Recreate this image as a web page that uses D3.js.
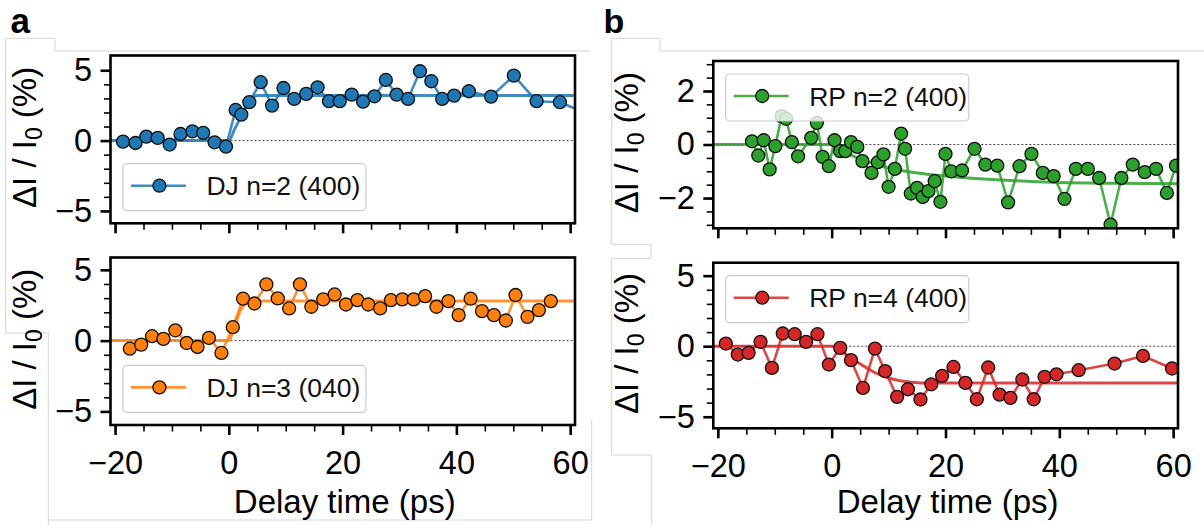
<!DOCTYPE html>
<html><head><meta charset="utf-8">
<script src="https://cdn.jsdelivr.net/npm/d3@7"></script>
<style>html,body{margin:0;padding:0;background:#fff;} svg{display:block;}</style>
</head><body>
<svg id="chart" width="1204" height="525"></svg>
<script>
// ---------------- data ----------------
const xTickMajor = [-20, 0, 20, 40, 60];
const xTickMinor = [-20,-15,-10,-5,0,5,10,15,20,25,30,35,40,45,50,55,60];
const xLabel = "Delay time (ps)";

// DJ n=2 (400)
const timeDJ2 = [-18.6,-16.4,-14.5,-12.5,-10.4,-8.5,-6.4,-4.5,-2.5,-0.5,1.2,2.2,3.6,5.6,7.6,9.6,11.5,13.6,15.6,17.6,19.5,21.6,23.6,25.6,27.6,29.5,31.5,33.6,35.6,37.5,39.6,42.2,46.1,50.1,54.1,58.2,62.2];
const valDJ2  = [-0.07,-0.17,0.28,0.19,-0.28,0.47,0.66,0.55,-0.12,-0.43,2.18,1.85,2.73,4.15,2.49,3.74,2.96,3.32,3.79,2.80,2.80,3.27,2.77,3.15,4.31,3.27,2.96,4.93,4.22,2.96,3.20,3.51,3.13,4.62,2.80,2.73,2.05];
const fitTimeDJ2 = [-22, 0, 1, 2, 3, 4, 5, 63];
const fitValDJ2  = [0, 0, 0.8, 1.6, 2.4, 2.95, 3.2, 3.2];

// DJ n=3 (040)
const timeDJ3 = [-17.4,-15.4,-13.5,-11.5,-9.4,-7.4,-5.5,-3.5,-1.3,0.7,2.5,4.5,6.6,8.6,10.6,12.5,14.5,16.6,18.6,20.6,22.6,24.5,26.6,28.5,30.5,32.5,34.5,36.5,38.6,40.4,42.5,44.5,46.6,48.7,50.4,52.5,54.5,56.6];
const valDJ3  = [-0.57,-0.28,0.31,0.12,0.73,-0.17,-0.45,0.19,-0.87,0.95,2.96,2.62,3.97,2.98,2.27,3.97,2.39,2.91,3.26,2.55,2.86,2.55,2.27,2.86,2.91,2.91,3.14,2.39,2.79,1.80,2.96,2.08,1.80,1.42,3.22,1.68,2.15,2.79];
const fitTimeDJ3 = [-22, 0, 1, 2, 3, 4, 63];
const fitValDJ3  = [0, 0, 1.0, 2.1, 2.65, 2.8, 2.8];

// RP n=2 (400)
const timeRP2 = [-14.0,-12.9,-11.95,-10.9,-9.9,-8.8,-8.0,-7.0,-5.9,-3.6,-2.6,-1.6,-0.5,0.5,1.5,2.4,3.4,4.5,5.4,7.0,8.1,9.1,10.0,11.1,12.2,12.9,13.9,15.0,16.0,17.0,18.1,19.1,20.0,21.0,22.9,25.1,27.0,29.1,31.0,33.0,35.1,37.1,39.0,40.9,42.9,45.0,47.0,49.0,50.9,52.9,55.0,57.0,58.9,60.5];
const valRP2  = [0.12,-0.41,0.16,-0.93,-0.06,1.06,0.96,0.09,-0.44,0.25,0.81,-0.46,-0.81,0.16,-0.25,-0.25,0.09,-0.09,-0.62,-1.06,-0.66,-0.37,-1.58,-0.91,0.41,-0.16,-1.83,-1.62,-1.96,-1.74,-1.37,-2.14,-0.35,-1.0,-0.97,-0.16,-0.75,-0.79,-2.16,-0.81,-0.35,-1.06,-1.18,-2.03,-0.91,-0.91,-1.25,-2.99,-1.25,-0.75,-1.03,-0.91,-1.81,-0.79];
const fitTimeRP2 = [-22, 0, 2, 4, 6, 9, 13, 20, 30, 40, 50, 63];
const fitValRP2  = [0, 0, -0.25, -0.45, -0.62, -0.82, -1.0, -1.18, -1.33, -1.42, -1.45, -1.47];

// RP n=4 (400)
const timeRP4 = [-18.6,-16.5,-14.6,-12.5,-10.5,-8.6,-6.5,-4.5,-2.5,-0.5,1.5,3.4,5.5,7.6,9.4,11.5,13.4,15.6,17.5,19.4,21.4,23.5,25.5,27.5,29.5,31.4,33.5,35.5,37.4,39.5,43.4,49.7,54.7,59.8];
const valRP4  = [0.19,-0.59,-0.47,0.31,-1.54,0.90,0.85,0.31,0.85,-1.30,-0.12,-0.99,-2.96,-0.17,-1.77,-3.59,-3.05,-3.78,-2.70,-2.10,-1.47,-2.60,-3.76,-1.51,-3.43,-3.66,-2.36,-3.76,-2.17,-1.99,-1.70,-1.23,-0.69,-1.58];
const fitTimeRP4 = [-22, 0, 2, 4, 6, 8, 10, 12, 14, 16, 63];
const fitValRP4  = [0, 0, -0.45, -1.0, -1.5, -1.95, -2.25, -2.45, -2.55, -2.6, -2.6];

const yMajorA = [-5, 0, 5];
const yMinorA = [-5,-4,-3,-2,-1,0,1,2,3,4,5];
const yMajorRP2 = [-2, 0, 2];
const yMinorRP2 = [-3,-2.5,-2,-1.5,-1,-0.5,0,0.5,1,1.5,2,2.5,3];

// ---------------- drawing ----------------
const FONT = "'Liberation Sans', Arial, Helvetica, sans-serif";
const svg = d3.select('#chart');

// light grey frame lines of the composite figure
const frame = svg.append('g').attr('fill','none').attr('stroke','#d4d4d4').attr('stroke-width',1);
frame.append('path').attr('d','M5.7,333 V38.3 H55 V51 H590');
frame.append('path').attr('d','M5.7,333 H48.3 V525');
frame.append('path').attr('d','M48.3,520 H591.7 V420');
frame.append('path').attr('d','M611.7,244.3 V38.3 H660 V51 H1204');
frame.append('path').attr('d','M611.7,244.3 H651 V258.3 H611.7 V455 H651.7 V525');

// panel letters
svg.append('text').attr('x',10.5).attr('y',33).text('a')
  .attr('font-family',FONT).attr('font-weight','bold').attr('font-size',35);
svg.append('text').attr('x',603.5).attr('y',33).text('b')
  .attr('font-family',FONT).attr('font-weight','bold').attr('font-size',34);

const panels = [
  {left:110.5, right:575, top:55.5, bottom:223.3, ydom:[-5.88,6.05], ymaj:yMajorA, ymin:yMinorA,
   xlabels:false, legend:'lower', t:timeDJ2, v:valDJ2, ft:fitTimeDJ2, fv:fitValDJ2, color:'#1f77b4', name:'DJ n=2 (400)', ylx:36},
  {left:110.5, right:575, top:257.5, bottom:425, ydom:[-5.96,5.87], ymaj:yMajorA, ymin:yMinorA,
   xlabels:true, legend:'lower', t:timeDJ3, v:valDJ3, ft:fitTimeDJ3, fv:fitValDJ3, color:'#ff7f0e', name:'DJ n=3 (040)', ylx:36},
  {left:713.3, right:1178, top:61, bottom:228.3, ydom:[-3.13,3.12], ymaj:yMajorRP2, ymin:yMinorRP2,
   xlabels:false, legend:'upper', t:timeRP2, v:valRP2, ft:fitTimeRP2, fv:fitValRP2, color:'#2ca02c', name:'RP n=2 (400)', ylx:638},
  {left:713.3, right:1178, top:262.7, bottom:428.3, ydom:[-5.82,5.92], ymaj:yMajorA, ymin:yMinorA,
   xlabels:true, legend:'upper', t:timeRP4, v:valRP4, ft:fitTimeRP4, fv:fitValRP4, color:'#d62728', name:'RP n=4 (400)', ylx:638},
];

const fmt = d3.format('');

panels.forEach((p, i) => {
  const x = d3.scaleLinear().domain([-20.8, 60.85]).range([p.left, p.right]);
  const y = d3.scaleLinear().domain(p.ydom).range([p.bottom, p.top]);
  const g = svg.append('g');
  const clipId = 'clip' + i;
  svg.append('clipPath').attr('id', clipId).append('rect')
    .attr('x', p.left).attr('y', p.top).attr('width', p.right - p.left).attr('height', p.bottom - p.top);
  const plot = g.append('g').attr('clip-path', `url(#${clipId})`);

  // zero reference
  plot.append('line').attr('x1', p.left).attr('x2', p.right).attr('y1', y(0)).attr('y2', y(0))
    .attr('stroke', '#444').attr('stroke-width', 1).attr('stroke-dasharray', '2,2');

  // fit curve
  const fitData = p.ft.map((t, k) => [t, p.fv[k]]);
  plot.append('path').datum(fitData)
    .attr('d', d3.line().x(d => x(d[0])).y(d => y(d[1])).curve(d3.curveMonotoneX))
    .attr('fill', 'none').attr('stroke', p.color).attr('stroke-width', 3).attr('stroke-opacity', 0.85);

  // data line + markers
  const data = p.t.map((t, k) => [t, p.v[k]]);
  plot.append('path').datum(data)
    .attr('d', d3.line().x(d => x(d[0])).y(d => y(d[1])))
    .attr('fill', 'none').attr('stroke', p.color).attr('stroke-width', 2.6).attr('stroke-opacity', 0.85);
  plot.selectAll('circle').data(data).join('circle')
    .attr('cx', d => x(d[0])).attr('cy', d => y(d[1])).attr('r', 6.5)
    .attr('fill', p.color).attr('stroke', '#111').attr('stroke-width', 1.3);

  // axes
  const xMin = g.append('g').attr('transform', `translate(0,${p.bottom})`)
    .call(d3.axisBottom(x).tickValues(xTickMinor).tickSize(6.5).tickFormat(''));
  const xMaj = g.append('g').attr('transform', `translate(0,${p.bottom})`)
    .call(d3.axisBottom(x).tickValues(xTickMajor).tickSize(10).tickPadding(16)
      .tickFormat(p.xlabels ? fmt : ''));
  const yMin = g.append('g').attr('transform', `translate(${p.left},0)`)
    .call(d3.axisLeft(y).tickValues(p.ymin).tickSize(6.5).tickFormat(''));
  const yMaj = g.append('g').attr('transform', `translate(${p.left},0)`)
    .call(d3.axisLeft(y).tickValues(p.ymaj).tickSize(10).tickPadding(8.5).tickFormat(fmt));
  [xMin, xMaj, yMin, yMaj].forEach(a => {
    a.select('.domain').remove();
    a.selectAll('text').attr('font-family', FONT).attr('font-size', 32.5).attr('fill', '#000');
  });
  [xMin, yMin].forEach(a => a.selectAll('line').attr('stroke', '#000').attr('stroke-width', 1.6));
  [xMaj, yMaj].forEach(a => a.selectAll('line').attr('stroke', '#000').attr('stroke-width', 2.6));

  // spines
  g.append('rect').attr('x', p.left).attr('y', p.top)
    .attr('width', p.right - p.left).attr('height', p.bottom - p.top)
    .attr('fill', 'none').attr('stroke', '#000').attr('stroke-width', 2.6);

  // y label
  const cy = (p.top + p.bottom) / 2 - 2;
  const yl = g.append('text').attr('transform', `translate(${p.ylx},${cy}) rotate(-90)`)
    .attr('text-anchor', 'middle').attr('font-family', FONT).attr('font-size', 33).attr('fill', '#000');
  yl.append('tspan').text('ΔI / I');
  yl.append('tspan').text('0').attr('font-size', 23).attr('dy', 6);
  yl.append('tspan').text(' (%)').attr('dy', -6);

  // x label
  if (p.xlabels) {
    g.append('text').attr('x', (p.left + p.right) / 2 + 2).attr('y', 513)
      .attr('text-anchor', 'middle').attr('font-family', FONT).attr('font-size', 33)
      .attr('fill', '#000').text(xLabel);
  }

  // legend
  const lw = 243, lh = 47;
  const lx = p.left + 12.4;
  const ly = p.legend === 'lower' ? p.bottom - 12.6 - lh : p.top + 13;
  const lg = g.append('g');
  lg.append('rect').attr('x', lx).attr('y', ly).attr('width', lw).attr('height', lh)
    .attr('rx', 4).attr('fill', '#fff').attr('fill-opacity', 0.8)
    .attr('stroke', '#cccccc').attr('stroke-width', 1.2);
  const lcy = ly + lh / 2 - 1.5;
  lg.append('line').attr('x1', lx + 8).attr('x2', lx + 63).attr('y1', lcy).attr('y2', lcy)
    .attr('stroke', p.color).attr('stroke-width', 2.6).attr('stroke-opacity', 0.85);
  lg.append('circle').attr('cx', lx + 36.5).attr('cy', lcy).attr('r', 6.5)
    .attr('fill', p.color).attr('stroke', '#111').attr('stroke-width', 1.3);
  lg.append('text').attr('x', lx + 83.5).attr('y', lcy + 9.5)
    .attr('font-family', FONT).attr('font-size', 26.5).attr('fill', '#111').text(p.name);
});
</script>
</body></html>
